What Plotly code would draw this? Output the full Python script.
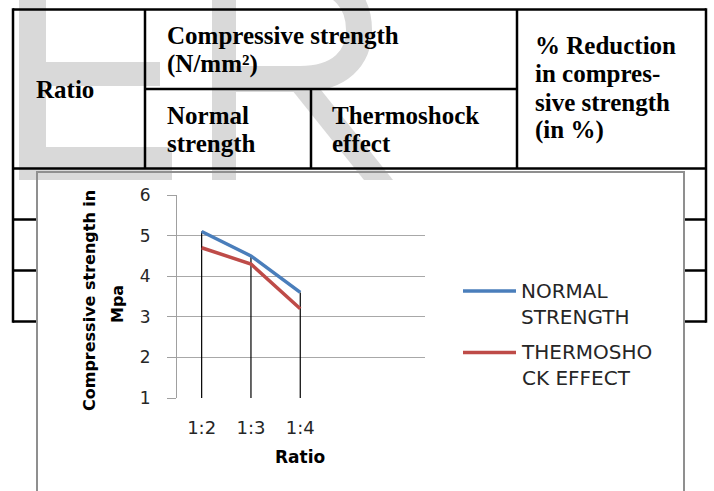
import plotly.graph_objects as go

# ---- data -------------------------------------------------------------
ratios = ["1:2", "1:3", "1:4"]
normal_strength = [5.1, 4.5, 3.6]
thermoshock_effect = [4.7, 4.3, 3.2]
series_names = ["NORMAL STRENGTH", "THERMOSHOCK EFFECT"]
legend_labels = ["NORMAL<br>STRENGTH", "THERMOSHO<br>CK EFFECT"]
series_colors = ["#4A7EBB", "#BE4B48"]
y_ticks = [1, 2, 3, 4, 5, 6]

# ---- page geometry (pixels) -------------------------------------------
W, H = 714, 491
PL, PR, PT, PB = 177, 425, 195, 398          # plot area edges


def X(px):
    return (px - PL) / (PR - PL)


def Y(py):
    return (PB - py) / (PB - PT)


def path(points, close=True):
    s = "M " + " L ".join(f"{X(x):.5f},{Y(y):.5f}" for x, y in points)
    return s + (" Z" if close else "")


shapes = []


def line(x0, y0, x1, y1, color="black", width=2.5):
    shapes.append(dict(type="line", xref="paper", yref="paper",
                       x0=X(x0), y0=Y(y0), x1=X(x1), y1=Y(y1),
                       line=dict(color=color, width=width), layer="below"))


def rect(x0, y0, x1, y1, fill, lc=None, lw=0):
    shapes.append(dict(type="rect", xref="paper", yref="paper",
                       x0=X(x0), y0=Y(y0), x1=X(x1), y1=Y(y1),
                       fillcolor=fill,
                       line=dict(color=lc or "rgba(0,0,0,0)", width=lw),
                       layer="below"))


# table body rows (hidden behind the chart frame in the middle)
for ry in [219.5, 270.5, 321.5]:
    line(13, ry, 706, ry)

# chart frame background
rect(37, 172, 684, 500, "white")

# light grey "ER" letters behind the table header
WM = "#d9d9d9"
rect(19, -5, 46, 180, WM)          # E stem
rect(46, 62, 160, 86, WM)          # E middle bar
rect(19, 147, 172, 180, WM)        # E bottom bar
rect(212, -5, 236, 180, WM)        # R stem
bowl = (f"M {X(224):.5f},{Y(-22):.5f} L {X(300):.5f},{Y(-22):.5f} "
        f"C {X(345):.5f},{Y(-22):.5f} {X(359):.5f},{Y(5):.5f} {X(359):.5f},{Y(30):.5f} "
        f"C {X(359):.5f},{Y(58):.5f} {X(340):.5f},{Y(79):.5f} {X(300):.5f},{Y(79):.5f} "
        f"L {X(224):.5f},{Y(79):.5f}")
shapes.append(dict(type="path", xref="paper", yref="paper", path=bowl,
                   line=dict(color=WM, width=26), layer="below"))
shapes.append(dict(type="path", xref="paper", yref="paper",
                   path=path([(284, 80), (313, 80), (393, 180), (364, 180)]),
                   fillcolor=WM, line=dict(width=0), layer="below"))

# table header grid
line(13, 9.5, 706, 9.5)
line(13, 168.5, 706, 168.5)
line(13, 8.3, 13, 322.7)
line(706, 8.3, 706, 322.7)
line(145, 9.5, 145, 168.5)
line(517, 9.5, 517, 168.5)
line(145, 89, 517, 89)
line(311, 89, 311, 168.5)

# chart frame border
shapes.append(dict(type="rect", xref="paper", yref="paper",
                   x0=X(37), y0=Y(172), x1=X(684), y1=Y(520),
                   line=dict(color="#8f8f8f", width=2), layer="below"))

annotations = []
SERIF = dict(family="Liberation Serif", size=25, color="black", weight="bold")


def cell_text(txt, x, baseline):
    annotations.append(dict(text=txt, xref="paper", yref="paper",
                            x=X(x), y=Y(baseline - 8), xanchor="left",
                            yanchor="middle", showarrow=False, font=SERIF))


cell_text("Ratio", 34, 97)
cell_text("Compressive strength", 165, 43)
cell_text("(N/mm²)", 165, 72)
cell_text("Normal", 165, 124)
cell_text("strength", 165, 151)
cell_text("Thermoshock", 330, 124)
cell_text("effect", 330, 151)
cell_text("% Reduction", 533, 53)
cell_text("in compres-", 533, 82)
cell_text("sive strength", 533, 110)
cell_text("(in %)", 533, 138)

# axis titles
TITLE = dict(family="DejaVu Sans", size=16, color="black", weight="bold")
annotations.append(dict(text="Compressive strength in", xref="paper", yref="paper",
                        x=X(89), y=Y(301), textangle=-90, showarrow=False,
                        xanchor="center", yanchor="middle", font=TITLE))
annotations.append(dict(text="Mpa", xref="paper", yref="paper",
                        x=X(117), y=Y(304), textangle=-90, showarrow=False,
                        xanchor="center", yanchor="middle", font=TITLE))
annotations.append(dict(text="Ratio", xref="paper", yref="paper",
                        x=X(300), y=Y(457), showarrow=False,
                        xanchor="center", yanchor="middle",
                        font=dict(family="DejaVu Sans", size=17, color="black",
                                  weight="bold")))

# legend
LEG_Y = [291, 352.5]
for lab, col, ly in zip(legend_labels, series_colors, LEG_Y):
    shapes.append(dict(type="line", xref="paper", yref="paper",
                       x0=X(463), x1=X(516), y0=Y(ly), y1=Y(ly),
                       line=dict(color=col, width=3.5), layer="above"))
    annotations.append(dict(text=lab, xref="paper", yref="paper",
                            x=X(519), y=Y(ly + 12.5), xanchor="left",
                            yanchor="middle", align="left", showarrow=False,
                            font=dict(family="DejaVu Sans", size=20,
                                      color="#262626")))

# ---- traces -----------------------------------------------------------
xs = list(range(len(ratios)))
drop_x, drop_y = [], []
for i in xs:
    drop_x += [i, i, None]
    drop_y += [y_ticks[0], max(normal_strength[i], thermoshock_effect[i]), None]

fig = go.Figure()
fig.add_trace(go.Scatter(x=drop_x, y=drop_y, mode="lines",
                         line=dict(color="black", width=1.2),
                         showlegend=False, hoverinfo="skip"))
for name, vals, col in zip(series_names, [normal_strength, thermoshock_effect],
                           series_colors):
    fig.add_trace(go.Scatter(x=xs, y=vals, mode="lines", name=name,
                             line=dict(color=col, width=3.5), showlegend=False))

fig.update_layout(
    width=W, height=H,
    margin=dict(l=PL, r=W - PR, t=PT, b=H - PB, pad=0),
    paper_bgcolor="white", plot_bgcolor="white",
    shapes=shapes, annotations=annotations, showlegend=False,
    xaxis=dict(range=[-0.5, 4.53], tickvals=xs, ticktext=ratios,
               showgrid=False, zeroline=False, showline=False, ticks="",
               ticklabelstandoff=17,
               tickfont=dict(family="DejaVu Sans", size=18, color="#262626")),
    yaxis=dict(range=[1, 6], tickvals=y_ticks, showgrid=True,
               gridcolor="#a8a8a8", gridwidth=1, zeroline=False,
               showline=True, linecolor="#a0a0a0", linewidth=1,
               ticks="outside", ticklen=9, tickcolor="#a0a0a0",
               ticklabelstandoff=13,
               tickfont=dict(family="DejaVu Sans", size=17, color="#262626")),
)

fig.write_html("out.html")
